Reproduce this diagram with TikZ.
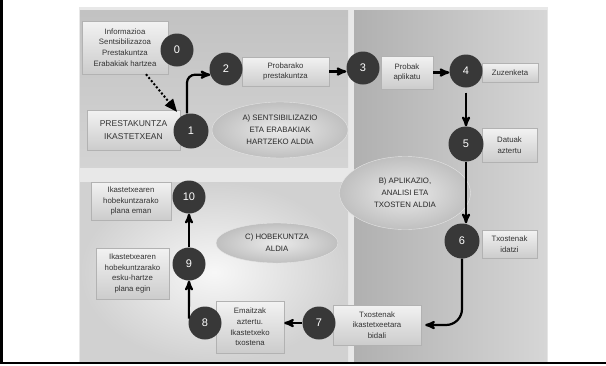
\documentclass[tikz,border=0pt]{standalone}
\usepackage{fontspec}
\setmainfont{Liberation Sans}
\usetikzlibrary{arrows, shadows, shapes.geometric}

\begin{document}
\begin{tikzpicture}[x=1pt, y=-1pt,
    num/.style={circle, fill=black!78, text=white, minimum size=33pt, inner sep=0pt, font=\fontsize{11}{11}\selectfont},
    card/.style={draw=black!30, top color=black!5, bottom color=black!20, text=black!80, align=center, inner sep=1pt,
        drop shadow={shadow xshift=1.2pt, shadow yshift=-1.2pt, opacity=.4}, font=\fontsize{7.8}{10.6}\selectfont},
    phase/.style={ellipse, draw=black!10, inner color=black!8, outer color=black!25, text=black!85, align=center,
        inner sep=0pt, font=\fontsize{7.8}{12}\selectfont},
    flow/.style={->, >=stealth', line width=2.2pt},
    dotflow/.style={->, >=triangle 45, line width=2pt, dash pattern=on 2pt off 2pt},
]
    \useasboundingbox (0,0) rectangle (606,365);
    \fill[white] (0,0) rectangle (606,365);

    % panels
    \fill[black!9] (79,7) rectangle (548,363);
    \shade[top color=black!24, bottom color=black!17] (80,10) rectangle (348,167);
    \shade[left color=black!31, right color=black!16] (354,10) rectangle (547,362);
    \shade[inner color=black!3, outer color=black!18] (80,182) rectangle (348,362);
    \draw[line width=3pt] (1.5,0) -- (1.5,363);
    \draw[line width=2pt] (0,363) -- (606,363);

    % phases
    \node[phase, minimum width=136pt, minimum height=56pt](pa) at (280,130) {A) SENTSIBILIZAZIO\\ETA ERABAKIAK\\HARTZEKO ALDIA};
    \node[phase, minimum width=131pt, minimum height=73pt](pb) at (405,193) {B) APLIKAZIO,\\ANALISI ETA\\TXOSTEN ALDIA};
    \node[phase, minimum width=122pt, minimum height=40pt](pc) at (277,243) {C) HOBEKUNTZA\\ALDIA};

    % boxes
    \node[card, minimum width=86pt, minimum height=53pt](b0) at (125,47.5) {Informazioa\\Sentsibilizazoa\\Prestakuntza\\Erabakiak hartzea};
    \node[card, minimum width=93pt, minimum height=40pt, font=\fontsize{8.5}{12.5}\selectfont](b1) at (133.5,130) {PRESTAKUNTZA\\IKASTETXEAN};
    \node[card, minimum width=87pt, minimum height=29pt](b2) at (285.5,71.5) {Probarako\\prestakuntza};
    \node[card, minimum width=52pt, minimum height=33pt](b3) at (407,72.5) {Probak\\aplikatu};
    \node[card, minimum width=56pt, minimum height=19pt](b4) at (510,72.5) {Zuzenketa};
    \node[card, minimum width=55pt, minimum height=34pt](b5) at (509.5,145) {Datuak\\aztertu};
    \node[card, minimum width=55pt, minimum height=28pt](b6) at (509.5,244) {Txostenak\\idatzi};
    \node[card, minimum width=88pt, minimum height=40pt](b7) at (377,325) {Txostenak\\ikastetxeetara\\bidali};
    \node[card, minimum width=68pt, minimum height=52pt](b8) at (250,327) {Emaitzak\\aztertu.\\Ikastetxeko\\txostena};
    \node[card, minimum width=73pt, minimum height=51pt](b9) at (132.5,273.5) {Ikastetxearen\\hobekuntzarako\\esku-hartze\\plana egin};
    \node[card, minimum width=80pt, minimum height=38pt](b10) at (131,201) {Ikastetxearen\\hobekuntzarako\\plana eman};

    % steps
    \node[num](0)  at (177,50)  {0};
    \node[num, minimum size=35pt](1)  at (191,131) {1};
    \node[num](2)  at (226,69)  {2};
    \node[num](3)  at (363,68)  {3};
    \node[num](4)  at (466,71)  {4};
    \node[num, minimum size=35pt](5)  at (466,144) {5};
    \node[num, minimum size=35pt](6)  at (462,241) {6};
    \node[num](7)  at (319,323) {7};
    \node[num](8)  at (205,323) {8};
    \node[num](9)  at (189,264) {9};
    \node[num](10) at (189,197) {10};

    % arrows
    \draw[dotflow, shorten >=6pt] ([xshift=21pt]b0.south) -- (1.125);
    \draw[flow, rounded corners=8pt] ([xshift=-4pt]1.north) |- (2.200);
    \draw[flow] (b2.east) -- (b2.east -| 3.west);
    \draw[flow] (b3.east) -- (b3.east -| 4.west);
    \draw[flow, shorten <=5pt] (4.south) -- (5.north);
    \draw[flow] (5.south) -- (5.south |- 6.north);
    \draw[flow, rounded corners=16pt] (6.south) |- ([xshift=4pt]b7.east);
    \draw[flow] (7.west) -- (7.west -| b8.east);
    \draw[flow] (8.165) to[out=90, in=-90] (9.south);
    \draw[flow] (9.north) -- (10.south);
\end{tikzpicture}
\end{document}
